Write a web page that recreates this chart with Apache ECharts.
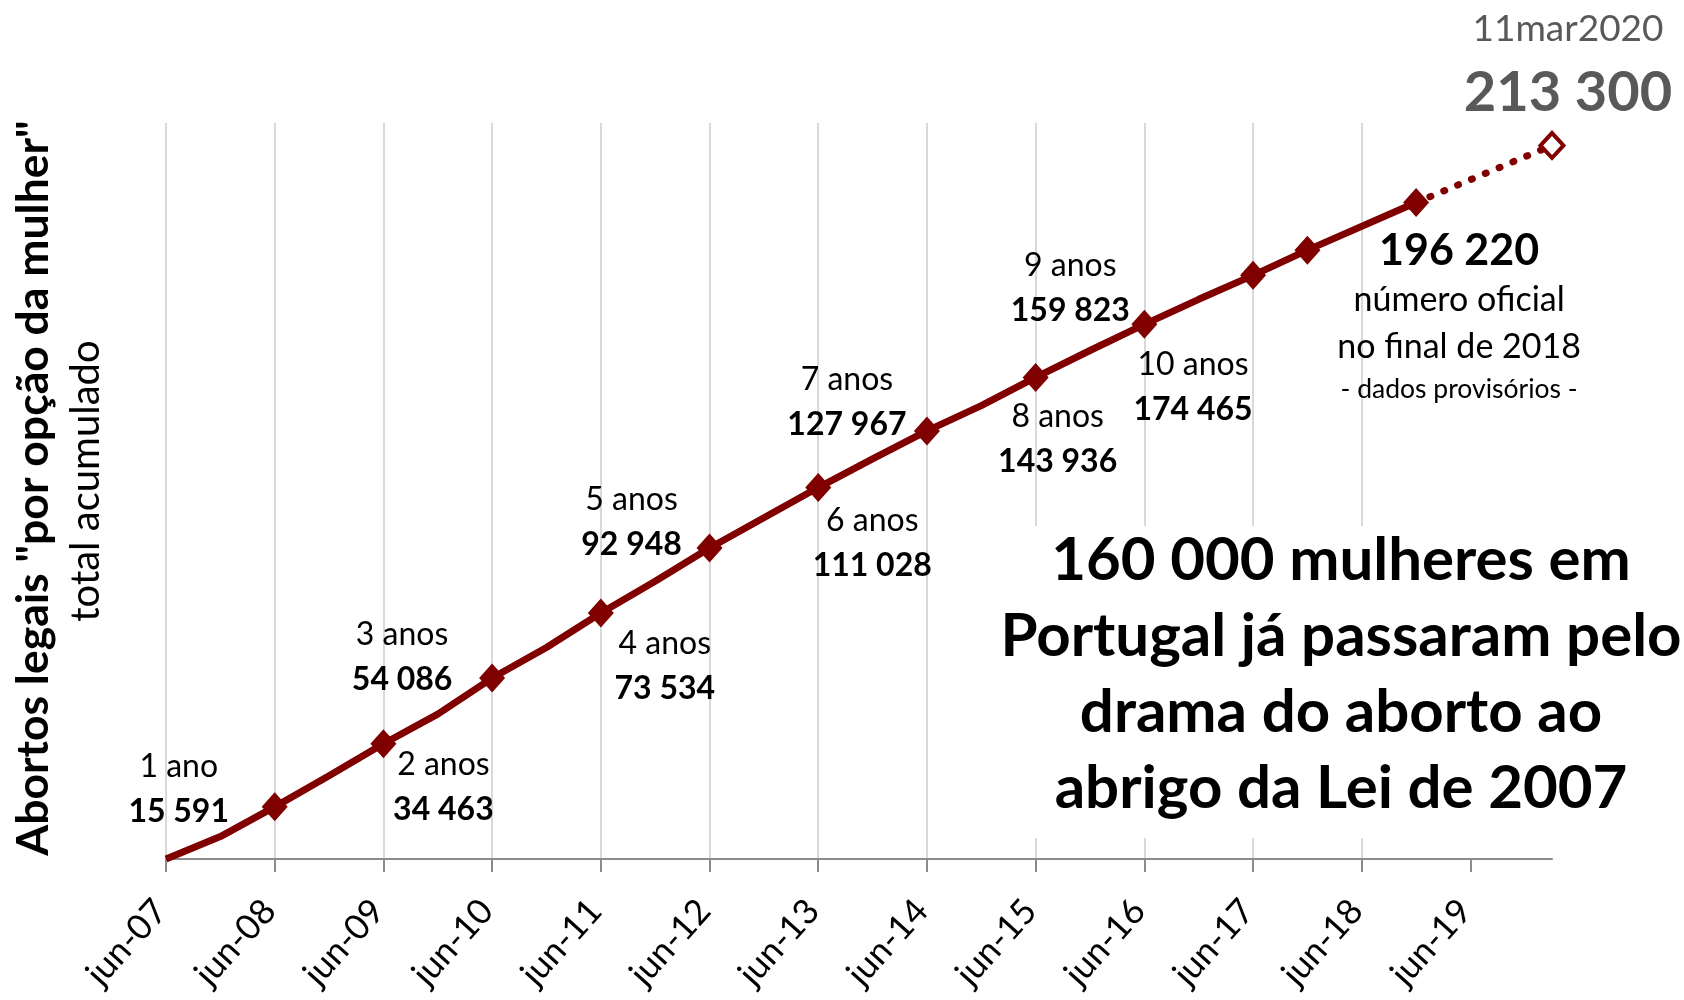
<!DOCTYPE html>
<html>
<head>
<meta charset="utf-8">
<script src="https://cdn.jsdelivr.net/npm/echarts@6/dist/echarts.min.js"></script>
<style>
    html, body { margin: 0; padding: 0; background: #fff; }
    #chart { width: 1684px; height: 1000px; }
</style>
</head>
<body>
<div id="chart"></div>
<script>
// pontos semestrais (meses contados desde jun-07) e total acumulado
const pontos = ['jun-07', 'dez-07', 'jun-08', 'dez-08', 'jun-09', 'dez-09', 'jun-10', 'dez-10',
    'jun-11', 'dez-11', 'jun-12', 'dez-12', 'jun-13', 'dez-13', 'jun-14', 'dez-14',
    'jun-15', 'dez-15', 'jun-16', 'dez-16', 'jun-17', 'dez-17', 'dez-18'];
const meses = [0, 6, 12, 18, 24, 30, 36, 42, 48, 54, 60, 66, 72, 78, 84, 90, 96, 102, 108, 114, 120, 126, 138];
const acumulado = [0, 6700, 15591, 24900, 34463, 43300, 54086, 63200, 73534, 83000, 92948, 102000,
    111028, 119600, 127967, 135500, 143936, 152000, 159823, 167300, 174465, 182000, 196220];

// etiquetas dos aniversarios (jun-08 ... jun-17)
const etiquetasAnos = ['1 ano', '2 anos', '3 anos', '4 anos', '5 anos', '6 anos', '7 anos', '8 anos', '9 anos', '10 anos'];

// estimativa
const estimativaData = '11mar2020';
const estimativaMes = 153;
const estimativaValor = 213300;

// eixo x
const eixoLabels = ['jun-07', 'jun-08', 'jun-09', 'jun-10', 'jun-11', 'jun-12', 'jun-13',
    'jun-14', 'jun-15', 'jun-16', 'jun-17', 'jun-18', 'jun-19'];
const eixoMeses = eixoLabels.map(function (l, i) { return i * 12; });

// deslocamento das etiquetas (em px) relativo ao marcador
const posEtiquetas = [[-96, -18], [60, 43], [-90, -21], [64, 53], [-78, -26],
    [54, 56], [-80, -29], [22, 62], [-74, -36], [-60, 112]];

const FONT = 'Lato, "Open Sans", sans-serif';
const COR = '#800000';

function fmt(v) {
    return String(v).replace(/\B(?=(\d{3})+(?!\d))/g, ' ');
}

const richAno = {
    a: { fontFamily: FONT, fontSize: 32, color: '#000', lineHeight: 45 },
    b: { fontFamily: FONT, fontSize: 32, fontWeight: 'bold', color: '#000', lineHeight: 45 }
};

const dadosLinha = [];
for (let i = 0; i < meses.length; i++) {
    const m = meses[i];
    const item = { value: [m, acumulado[i]] };
    const marcador = m > 0 && (m % 12 === 0 || m >= 126);
    if (!marcador) {
        item.symbol = 'none';
    }
    if (m > 0 && m % 12 === 0 && m / 12 <= etiquetasAnos.length) {
        const k = m / 12 - 1;
        item.label = {
            show: true,
            position: 'inside',
            offset: posEtiquetas[k],
            formatter: '{a|' + etiquetasAnos[k] + '}\n{b|' + fmt(acumulado[i]) + '}',
            rich: richAno
        };
    }
    if (i === meses.length - 1) {
        item.label = {
            show: true,
            position: 'inside',
            offset: [43, 115],
            formatter: '{a|' + fmt(acumulado[i]) + '}\n{b|número oficial}\n{b|no final de 2018}\n{c|- dados provisórios -}',
            rich: {
                a: { fontFamily: FONT, fontSize: 43, fontWeight: 'bold', color: '#000', lineHeight: 50 },
                b: { fontFamily: FONT, fontSize: 34, color: '#000', lineHeight: 47 },
                c: { fontFamily: FONT, fontSize: 26.5, color: '#000', lineHeight: 38 }
            }
        };
    }
    dadosLinha.push(item);
}

const dadosEstimativa = [
    { value: [meses[meses.length - 1], acumulado[acumulado.length - 1]], symbol: 'none' },
    {
        value: [estimativaMes, estimativaValor],
        label: {
            show: true,
            position: 'inside',
            offset: [16, -80],
            formatter: '{a|' + estimativaData + '}\n{b|' + fmt(estimativaValor) + '}',
            rich: {
                a: { fontFamily: FONT, fontSize: 37, color: '#595959', lineHeight: 56 },
                b: { fontFamily: FONT, fontSize: 56, fontWeight: 'bold', color: '#595959', lineHeight: 72 }
            }
        }
    }
];

const myChart = echarts.init(document.getElementById('chart'));

const option = {
    animation: false,
    backgroundColor: '#fff',
    grid: { left: 166, right: 132, top: 123, bottom: 141, outerBoundsMode: 'none', containLabel: false },
    xAxis: {
        type: 'value',
        min: 0,
        max: estimativaMes,
        interval: 12,
        axisLine: { show: true, lineStyle: { color: '#8c8c8c', width: 2 } },
        axisTick: {
            show: true, length: 13, inside: false,
            customValues: eixoMeses,
            lineStyle: { color: '#8c8c8c', width: 2 }
        },
        axisLabel: {
            customValues: eixoMeses,
            rotate: 48,
            margin: 40,
            padding: [0, 8, 0, 0],
            fontFamily: FONT,
            fontSize: 35,
            color: '#000',
            formatter: function (v) {
                return eixoLabels[Math.round(v / 12)] || '';
            }
        },
        splitLine: {
            show: true,
            showMaxLine: false,
            lineStyle: { color: '#d9d9d9', width: 2 }
        }
    },
    yAxis: {
        type: 'value',
        min: 0,
        max: 220000,
        show: false,
        splitLine: { show: false }
    },
    series: [
        {
            type: 'line',
            data: dadosLinha,
            symbol: 'diamond',
            symbolSize: [26, 29],
            lineStyle: { color: COR, width: 7 },
            itemStyle: { color: COR },
            emphasis: { disabled: true },
            z: 3
        },
        {
            type: 'line',
            data: dadosEstimativa,
            symbol: 'diamond',
            symbolSize: [23, 25],
            lineStyle: { color: COR, width: 7, type: [1, 14], cap: 'round' },
            itemStyle: { color: '#fff', borderColor: COR, borderWidth: 4 },
            emphasis: { disabled: true },
            z: 2
        }
    ],
    graphic: [
        {
            type: 'text',
            x: 34, y: 488,
            rotation: Math.PI / 2,
            style: {
                text: 'Abortos legais "por opção da mulher"',
                fontFamily: FONT, fontSize: 44.5, fontWeight: 'bold', fill: '#000',
                align: 'center', verticalAlign: 'middle'
            }
        },
        {
            type: 'text',
            x: 86, y: 481,
            rotation: Math.PI / 2,
            style: {
                text: 'total acumulado',
                fontFamily: FONT, fontSize: 40, fill: '#000',
                align: 'center', verticalAlign: 'middle'
            }
        },
        {
            type: 'rect',
            z: 5,
            shape: { x: 990, y: 526, width: 694, height: 312 },
            style: { fill: '#fff' }
        },
        {
            type: 'text',
            z: 6,
            x: 1341, y: 675,
            style: {
                text: '160 000 mulheres em\nPortugal já passaram pelo\ndrama do aborto ao\nabrigo da Lei de 2007',
                fontFamily: FONT, fontSize: 60, fontWeight: 'bold', fill: '#000',
                lineHeight: 76,
                align: 'center', verticalAlign: 'middle'
            }
        }
    ]
};

myChart.setOption(option, true);
</script>
</body>
</html>
